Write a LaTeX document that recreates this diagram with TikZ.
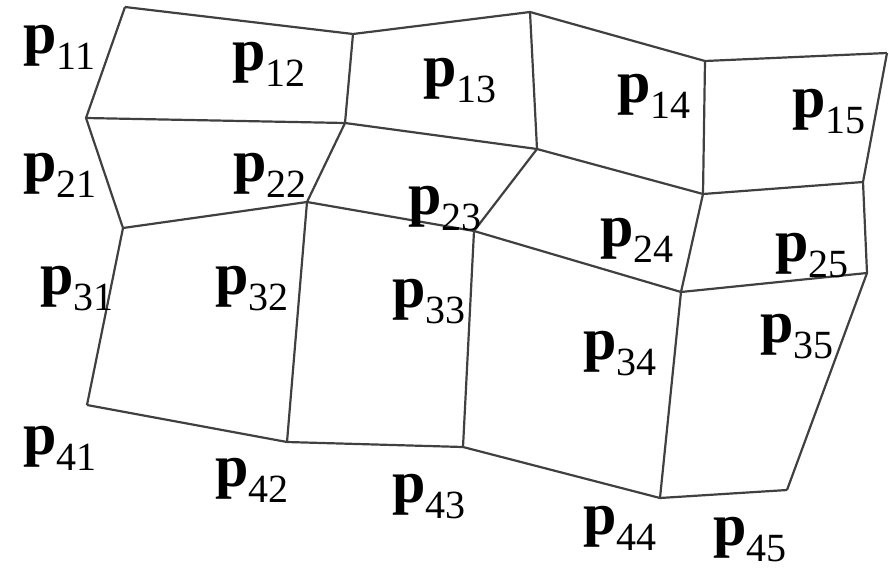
\documentclass[tikz,border=0pt]{standalone}
\usepackage{fontspec}
\setmainfont{Liberation Serif}
\newcommand{\plab}[1]{\textbf{p}\raisebox{-16pt}{\fontsize{40}{40}\selectfont #1}}
\tikzset{
	meshline/.style={line width=2.2pt, draw=black!75, line join=round},
	plabel/.style={anchor=base west, inner sep=0pt, font=\fontsize{60}{60}\selectfont},
}

\begin{document}
\begin{tikzpicture}[x=1pt, y=-1pt]
	\useasboundingbox (0,0) rectangle (889,568);
	% mesh vertices
	\coordinate (v11) at (125,7);   \coordinate (v12) at (353,34);
	\coordinate (v13) at (530,12);  \coordinate (v14) at (705,61);
	\coordinate (v15) at (887,53);
	\coordinate (v21) at (86,118);  \coordinate (v22) at (345,123);
	\coordinate (v23) at (537,149); \coordinate (v24) at (703,194);
	\coordinate (v25) at (863,182);
	\coordinate (v31) at (123,228); \coordinate (v32) at (307,202);
	\coordinate (v33) at (474,231); \coordinate (v34) at (681,292);
	\coordinate (v35) at (867,273);
	\coordinate (v41) at (87,405);  \coordinate (v42) at (287,442);
	\coordinate (v43) at (463,447); \coordinate (v44) at (660,498);
	\coordinate (v45) at (787,490);
	% mesh lines
	\foreach \r in {1,...,4}
		\draw[meshline] (v\r1) -- (v\r2) -- (v\r3) -- (v\r4) -- (v\r5);
	\foreach \c in {1,...,5}
		\draw[meshline] (v1\c) -- (v2\c) -- (v3\c) -- (v4\c);
	% labels
	\node[plabel] (p11) at (23,53)   {\plab{11}};
	\node[plabel] (p12) at (232,70)  {\plab{12}};
	\node[plabel] (p13) at (423,86)  {\plab{13}};
	\node[plabel] (p14) at (617,102) {\plab{14}};
	\node[plabel] (p15) at (792,117) {\plab{15}};
	\node[plabel] (p21) at (23,181)  {\plab{21}};
	\node[plabel] (p22) at (233,181) {\plab{22}};
	\node[plabel] (p23) at (408,214) {\plab{23}};
	\node[plabel] (p24) at (600,246) {\plab{24}};
	\node[plabel] (p25) at (775,261) {\plab{25}};
	\node[plabel] (p31) at (40,294)  {\plab{31}};
	\node[plabel] (p32) at (215,294) {\plab{32}};
	\node[plabel] (p33) at (392,307) {\plab{33}};
	\node[plabel] (p34) at (583,359) {\plab{34}};
	\node[plabel] (p35) at (760,342) {\plab{35}};
	\node[plabel] (p41) at (23,454)  {\plab{41}};
	\node[plabel] (p42) at (215,486) {\plab{42}};
	\node[plabel] (p43) at (392,502) {\plab{43}};
	\node[plabel] (p44) at (583,534) {\plab{44}};
	\node[plabel] (p45) at (713,545) {\plab{45}};
\end{tikzpicture}
\end{document}
